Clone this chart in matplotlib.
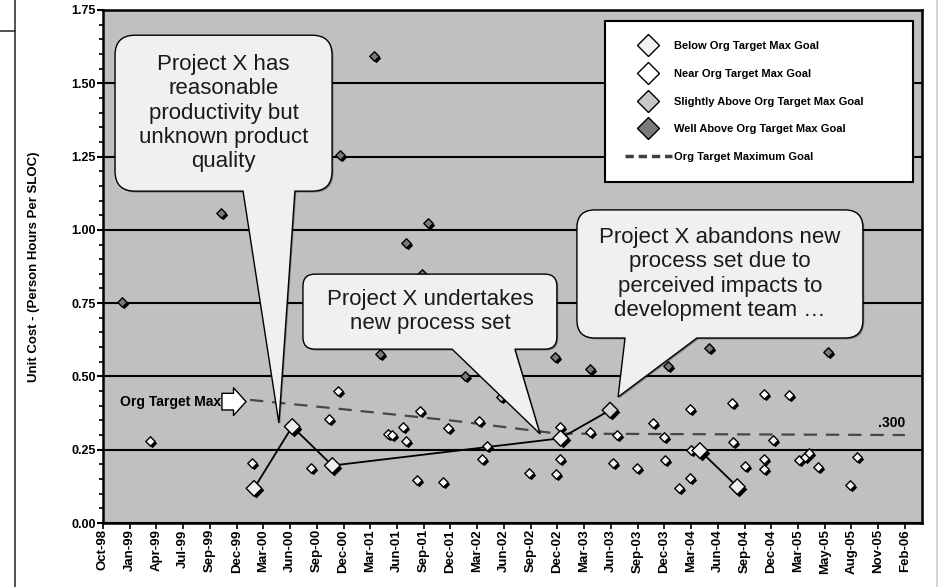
import numpy as np
import matplotlib
matplotlib.use('Agg')
import matplotlib.pyplot as plt
import matplotlib.patheffects as pe
from matplotlib.path import Path
from matplotlib.patches import PathPatch
from matplotlib.lines import Line2D
from matplotlib.transforms import offset_copy

plt.rcParams['font.family'] = ['Liberation Sans', 'DejaVu Sans']

# x positions are counted in axis steps from Oct-98
tick_labels = ['Oct-98', 'Jan-99', 'Apr-99', 'Jul-99', 'Sep-99', 'Dec-99', 'Mar-00',
               'Jun-00', 'Sep-00', 'Dec-00', 'Mar-01', 'Jun-01', 'Sep-01', 'Dec-01',
               'Mar-02', 'Jun-02', 'Sep-02', 'Dec-02', 'Mar-03', 'Jun-03', 'Sep-03',
               'Dec-03', 'Mar-04', 'Jun-04', 'Sep-04', 'Dec-04', 'Mar-05', 'May-05',
               'Aug-05', 'Nov-05', 'Feb-06']

well_x = [0.71, 4.40, 8.88, 10.14, 10.36, 11.34, 11.92, 12.17, 13.54, 16.91,
          18.22, 21.12, 22.67, 27.13]
well_y = [0.755, 1.058, 1.255, 1.594, 0.576, 0.956, 0.849, 1.024, 0.502, 0.567,
          0.527, 0.536, 0.596, 0.584]

slight_x = [14.88]
slight_y = [0.431]

near_x = [8.47, 8.80, 10.67, 10.82, 11.24, 11.86, 12.89, 14.07, 17.10, 18.22,
          19.24, 20.59, 21.96, 23.52, 24.73, 25.68]
near_y = [0.354, 0.450, 0.304, 0.300, 0.329, 0.382, 0.325, 0.348, 0.329, 0.311,
          0.300, 0.340, 0.388, 0.408, 0.440, 0.437]

below_x = [1.76, 5.56, 7.78, 11.32, 11.76, 12.71, 14.17, 14.35, 15.94, 16.94,
           17.10, 19.09, 19.97, 20.99, 21.03, 21.55, 21.96, 22.00, 23.58, 24.02,
           24.73, 24.74, 25.08, 26.04, 26.26, 26.42, 26.76, 27.95, 28.20]
below_y = [0.280, 0.204, 0.187, 0.280, 0.147, 0.139, 0.218, 0.263, 0.172, 0.167,
           0.217, 0.206, 0.187, 0.292, 0.215, 0.118, 0.152, 0.249, 0.277, 0.194,
           0.218, 0.183, 0.283, 0.215, 0.224, 0.240, 0.190, 0.130, 0.226]

# Project X releases (NaN splits the two runs)
projx_x = [5.65, 7.08, 8.58, 17.12, 18.97, np.nan, 22.33, 23.73]
projx_y = [0.118, 0.329, 0.196, 0.289, 0.385, np.nan, 0.247, 0.124]
projx_face = ['#eeeeee', '#eeeeee', '#eeeeee', '#eeeeee', '#d4d4d4', None, '#eeeeee', '#eeeeee']

target_x = [5.5, 9.0, 13.0, 17.0, 30.0]
target_y = [0.420, 0.388, 0.350, 0.305, 0.300]

legend_labels = ['Below Org Target Max Goal', 'Near Org Target Max Goal',
                 'Slightly Above Org Target Max Goal', 'Well Above Org Target Max Goal',
                 'Org Target Maximum Goal']
legend_faces = ['#f2f2f2', '#ffffff', '#c8c8c8', '#7a7a7a']

fig = plt.figure(figsize=(9.4, 5.87), dpi=100)
ax = fig.add_axes([103 / 940, 64 / 587, 819 / 940, 513 / 587])
ax.set_facecolor('#c0c0c0')
ax.set_xlim(0, 30.64)
ax.set_ylim(0, 1.75)

ax.set_xticks(range(len(tick_labels)))
ax.set_xticklabels(tick_labels, rotation=90, fontsize=9.5, fontweight='bold')
yt = np.arange(0, 1.76, 0.25)
ax.set_yticks(yt)
ax.set_yticklabels([f'{v:.2f}' for v in yt], fontsize=9, fontweight='bold')
ax.set_yticks(np.arange(0, 1.751, 0.05), minor=True)
ax.tick_params(axis='y', which='major', length=4.5, width=1.5, pad=0.5)
ax.tick_params(axis='y', which='minor', length=3, width=1.2)
ax.tick_params(axis='x', which='major', length=4, width=1.2, pad=0.5)
for s in ax.spines.values():
    s.set_linewidth(1.8)

ax.yaxis.grid(True, color='black', lw=1.5)
ax.set_axisbelow(True)

ax.set_ylabel('Unit Cost - (Person Hours Per SLOC)', fontsize=9.5, fontweight='bold')
ax.yaxis.set_label_coords(-0.077, 0.5)

# org target line
ax.plot(target_x, target_y, color='#474747', lw=1.6, dashes=(6, 4), zorder=2)
ax.text(29.51, 0.341, f'.{int(round(target_y[-1] * 1000)):03d}', fontsize=10,
        fontweight='bold', ha='center', va='center')

shadow = offset_copy(ax.transData, fig=fig, x=2, y=-2, units='dots')


def diamonds(x, y, face, size):
    ax.scatter(x, y, s=size, marker='D', color='black', linewidths=0,
               transform=shadow, zorder=4)
    ax.scatter(x, y, s=size, marker='D', facecolor=face, edgecolor='black',
               linewidths=1, zorder=5)


diamonds(below_x, below_y, legend_faces[0], 23)
diamonds(near_x, near_y, legend_faces[1], 23)
diamonds(slight_x, slight_y, legend_faces[2], 23)
diamonds(well_x, well_y, legend_faces[3], 23)

ax.plot(projx_x, projx_y, color='black', lw=1.3, zorder=3)
px = [v for v in projx_x if not np.isnan(v)]
py = [v for v in projx_y if not np.isnan(v)]
pf = [c for c in projx_face if c is not None]
diamonds(px, py, pf, 64)

# Org Target Max pointer
ax.text(0.64, 0.414, 'Org Target Max', fontsize=10, fontweight='bold', va='center')
ax.annotate('', xy=(5.35, 0.414), xytext=(4.45, 0.414),
            arrowprops=dict(arrowstyle='simple,head_length=0.45,head_width=1.0,tail_width=0.6',
                            fc='white', ec='black', lw=1, mutation_scale=20,
                            shrinkA=0, shrinkB=0),
            zorder=6)


def callout(box, tail, tip, radius, text):
    x0, y0, x1, y1 = box
    o = ax.transData.transform((0, 0))
    sx = ax.transData.transform((1, 0))[0] - o[0]
    sy = ax.transData.transform((0, 1))[1] - o[1]
    rx, ry = radius / sx, radius / sy
    bl, br = tail
    verts = [(x0 + rx, y0), (bl, y0), tip, (br, y0), (x1 - rx, y0),
             (x1, y0), (x1, y0 + ry), (x1, y1 - ry),
             (x1, y1), (x1 - rx, y1), (x0 + rx, y1),
             (x0, y1), (x0, y1 - ry), (x0, y0 + ry),
             (x0, y0), (x0 + rx, y0), (0, 0)]
    codes = [Path.MOVETO, Path.LINETO, Path.LINETO, Path.LINETO, Path.LINETO,
             Path.CURVE3, Path.CURVE3, Path.LINETO,
             Path.CURVE3, Path.CURVE3, Path.LINETO,
             Path.CURVE3, Path.CURVE3, Path.LINETO,
             Path.CURVE3, Path.CURVE3, Path.CLOSEPOLY]
    patch = PathPatch(Path(verts, codes), facecolor='#f0f0f0', edgecolor='black',
                      lw=1, zorder=6, clip_on=False,
                      path_effects=[pe.SimplePatchShadow(offset=(1, -1),
                                                         shadow_rgbFace='black', alpha=0.35),
                                    pe.Normal()])
    ax.add_patch(patch)
    ax.text((x0 + x1) / 2, (y0 + y1) / 2, text, ha='center', va='center',
            fontsize=16, linespacing=1.2, color='#1a1a1a', zorder=7)


callout((0.45, 1.132, 8.57, 1.664), (5.24, 7.18), (6.58, 0.341), 20,
        'Project X has\nreasonable\nproductivity but\nunknown product\nquality')
callout((7.48, 0.593, 16.98, 0.849), (13.06, 15.41), (16.35, 0.304), 12,
        'Project X undertakes\nnew process set')
callout((17.73, 0.631, 28.43, 1.068), (19.53, 22.22), (19.27, 0.430), 18,
        'Project X abandons new\nprocess set due to\nperceived impacts to\ndevelopment team \u2026')

handles = [Line2D([], [], ls='none', marker='D', ms=11.5, mfc=c, mec='black', mew=1)
           for c in legend_faces]
handles.append(Line2D([], [], color='#404040', lw=2.5, dashes=(2.4, 1.4)))
leg = ax.legend(handles, legend_labels, loc='upper left',
                bbox_to_anchor=(0.613, 0.655, 0.376, 0.3236), mode='expand',
                borderaxespad=0, frameon=True, fancybox=False, framealpha=1,
                edgecolor='black', prop={'weight': 'bold', 'size': 8},
                labelspacing=1.6, borderpad=1.8, handlelength=4.2, handletextpad=0.2)
leg.get_frame().set_linewidth(1.5)
leg.set_zorder(8)

# page edge rules
fig.add_artist(Line2D([15 / 940, 15 / 940], [0, 1], transform=fig.transFigure,
                      color='#333333', lw=1.2))
fig.add_artist(Line2D([0, 15 / 940], [1 - 31 / 587, 1 - 31 / 587],
                      transform=fig.transFigure, color='#333333', lw=1.2))
fig.add_artist(Line2D([937 / 940, 937 / 940], [0, 1], transform=fig.transFigure,
                      color='#cccccc', lw=1.2))

fig.savefig('out.png', dpi=100, facecolor='white')
